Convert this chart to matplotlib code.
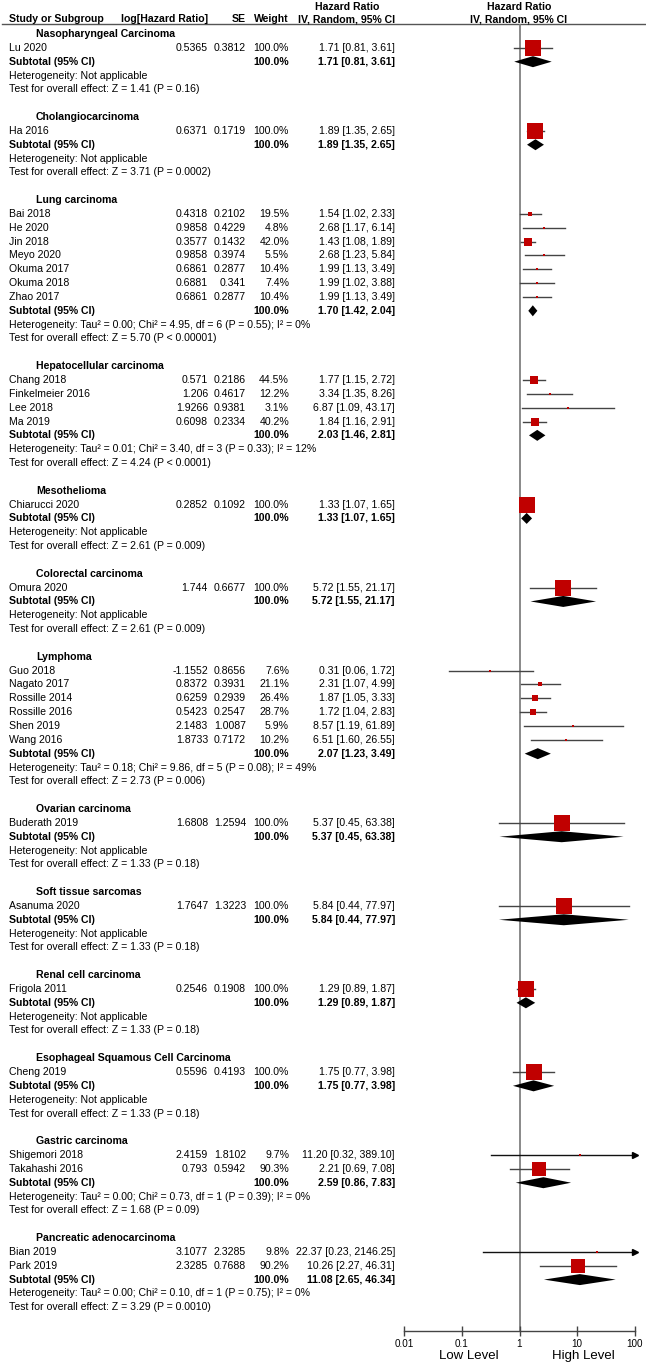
import matplotlib
matplotlib.use("Agg")
import matplotlib.pyplot as plt
from matplotlib.patches import Polygon
import numpy as np

plt.rcParams['font.family'] = ['Liberation Sans', 'DejaVu Sans']

# ---------------- data ----------------
group_names = [
    "Nasopharyngeal Carcinoma", "Cholangiocarcinoma", "Lung carcinoma",
    "Hepatocellular carcinoma", "Mesothelioma", "Colorectal carcinoma",
    "Lymphoma", "Ovarian carcinoma", "Soft tissue sarcomas",
    "Renal cell carcinoma", "Esophageal Squamous Cell Carcinoma",
    "Gastric carcinoma", "Pancreatic adenocarcinoma",
]

study_group = [0, 1, 2, 2, 2, 2, 2, 2, 2, 3, 3, 3, 3, 4, 5,
               6, 6, 6, 6, 6, 6, 7, 8, 9, 10, 11, 11, 12, 12]
study_names = [
    "Lu 2020", "Ha 2016",
    "Bai 2018", "He 2020", "Jin 2018", "Meyo 2020", "Okuma 2017", "Okuma 2018", "Zhao 2017",
    "Chang 2018", "Finkelmeier 2016", "Lee 2018", "Ma 2019",
    "Chiarucci 2020", "Omura 2020",
    "Guo 2018", "Nagato 2017", "Rossille 2014", "Rossille 2016", "Shen 2019", "Wang 2016",
    "Buderath 2019", "Asanuma 2020", "Frigola 2011", "Cheng 2019",
    "Shigemori 2018", "Takahashi 2016", "Bian 2019", "Park 2019",
]
log_hr = [0.5365, 0.6371,
          0.4318, 0.9858, 0.3577, 0.9858, 0.6861, 0.6881, 0.6861,
          0.571, 1.206, 1.9266, 0.6098,
          0.2852, 1.744,
          -1.1552, 0.8372, 0.6259, 0.5423, 2.1483, 1.8733,
          1.6808, 1.7647, 0.2546, 0.5596,
          2.4159, 0.793, 3.1077, 2.3285]
se = [0.3812, 0.1719,
      0.2102, 0.4229, 0.1432, 0.3974, 0.2877, 0.341, 0.2877,
      0.2186, 0.4617, 0.9381, 0.2334,
      0.1092, 0.6677,
      0.8656, 0.3931, 0.2939, 0.2547, 1.0087, 0.7172,
      1.2594, 1.3223, 0.1908, 0.4193,
      1.8102, 0.5942, 2.3285, 0.7688]
weight = [100.0, 100.0,
          19.5, 4.8, 42.0, 5.5, 10.4, 7.4, 10.4,
          44.5, 12.2, 3.1, 40.2,
          100.0, 100.0,
          7.6, 21.1, 26.4, 28.7, 5.9, 10.2,
          100.0, 100.0, 100.0, 100.0,
          9.7, 90.3, 9.8, 90.2]
hr = [1.71, 1.89,
      1.54, 2.68, 1.43, 2.68, 1.99, 1.99, 1.99,
      1.77, 3.34, 6.87, 1.84,
      1.33, 5.72,
      0.31, 2.31, 1.87, 1.72, 8.57, 6.51,
      5.37, 5.84, 1.29, 1.75,
      11.20, 2.21, 22.37, 10.26]
ci_lo = [0.81, 1.35,
         1.02, 1.17, 1.08, 1.23, 1.13, 1.02, 1.13,
         1.15, 1.35, 1.09, 1.16,
         1.07, 1.55,
         0.06, 1.07, 1.05, 1.04, 1.19, 1.60,
         0.45, 0.44, 0.89, 0.77,
         0.32, 0.69, 0.23, 2.27]
ci_hi = [3.61, 2.65,
         2.33, 6.14, 1.89, 5.84, 3.49, 3.88, 3.49,
         2.72, 8.26, 43.17, 2.91,
         1.65, 21.17,
         1.72, 4.99, 3.33, 2.83, 61.89, 26.55,
         63.38, 77.97, 1.87, 3.98,
         389.10, 7.08, 2146.25, 46.31]

sub_hr = [1.71, 1.89, 1.70, 2.03, 1.33, 5.72, 2.07, 5.37, 5.84, 1.29, 1.75, 2.59, 11.08]
sub_lo = [0.81, 1.35, 1.42, 1.46, 1.07, 1.55, 1.23, 0.45, 0.44, 0.89, 0.77, 0.86, 2.65]
sub_hi = [3.61, 2.65, 2.04, 2.81, 1.65, 21.17, 3.49, 63.38, 77.97, 1.87, 3.98, 7.83, 46.34]

het_text = [
    "Heterogeneity: Not applicable",
    "Heterogeneity: Not applicable",
    "Heterogeneity: Tau² = 0.00; Chi² = 4.95, df = 6 (P = 0.55); I² = 0%",
    "Heterogeneity: Tau² = 0.01; Chi² = 3.40, df = 3 (P = 0.33); I² = 12%",
    "Heterogeneity: Not applicable",
    "Heterogeneity: Not applicable",
    "Heterogeneity: Tau² = 0.18; Chi² = 9.86, df = 5 (P = 0.08); I² = 49%",
    "Heterogeneity: Not applicable",
    "Heterogeneity: Not applicable",
    "Heterogeneity: Not applicable",
    "Heterogeneity: Not applicable",
    "Heterogeneity: Tau² = 0.00; Chi² = 0.73, df = 1 (P = 0.39); I² = 0%",
    "Heterogeneity: Tau² = 0.00; Chi² = 0.10, df = 1 (P = 0.75); I² = 0%",
]
test_text = [
    "Test for overall effect: Z = 1.41 (P = 0.16)",
    "Test for overall effect: Z = 3.71 (P = 0.0002)",
    "Test for overall effect: Z = 5.70 (P < 0.00001)",
    "Test for overall effect: Z = 4.24 (P < 0.0001)",
    "Test for overall effect: Z = 2.61 (P = 0.009)",
    "Test for overall effect: Z = 2.61 (P = 0.009)",
    "Test for overall effect: Z = 2.73 (P = 0.006)",
    "Test for overall effect: Z = 1.33 (P = 0.18)",
    "Test for overall effect: Z = 1.33 (P = 0.18)",
    "Test for overall effect: Z = 1.33 (P = 0.18)",
    "Test for overall effect: Z = 1.33 (P = 0.18)",
    "Test for overall effect: Z = 1.68 (P = 0.09)",
    "Test for overall effect: Z = 3.29 (P = 0.0010)",
]

axis_ticks = [0.01, 0.1, 1, 10, 100]
axis_ticklabels = ["0.01", "0.1", "1", "10", "100"]
favours = ["Low Level", "High Level"]

# ---------------- layout ----------------
W, H = 646, 1367
fig = plt.figure(figsize=(W / 100, H / 100), dpi=100)
ax = fig.add_axes([0, 0, 1, 1])
ax.set_xlim(0, W)
ax.set_ylim(H, 0)
ax.axis('off')

x0f, x1f = 404, 635
axf = fig.add_axes([x0f / W, 0, (x1f - x0f) / W, 1])
axf.set_xscale('log')
axf.set_xlim(0.01, 100)
axf.set_ylim(H, 0)
axf.patch.set_alpha(0)
for s in ['top', 'left', 'right']:
    axf.spines[s].set_visible(False)

FS = 7.6
X_NAME, X_HEAD = 9, 36
X_LOG, X_SE, X_W, X_CI = 208, 246, 289, 395
X_CIH = 347
ROW = 13.84
Y0 = 34
AXIS_Y = 1331
RED = '#c00000'

# header
ax.text(X_CIH, 7, "Hazard Ratio", ha='center', va='center', fontsize=FS, fontweight='bold')
ax.text(519, 7, "Hazard Ratio", ha='center', va='center', fontsize=FS, fontweight='bold')
for x, t, ha in [(X_NAME, "Study or Subgroup", 'left'), (X_LOG, "log[Hazard Ratio]", 'right'),
                 (X_SE, "SE", 'right'), (X_W, "Weight", 'right'),
                 (X_CIH, "IV, Random, 95% CI", 'center'), (519, "IV, Random, 95% CI", 'center')]:
    ax.text(x, 19, t, ha=ha, va='center', fontsize=FS, fontweight='bold')
ax.plot([2, 646], [23.5, 23.5], color='#555555', lw=1.0)

# vertical line at 1
axf.vlines(1, 23.5, AXIS_Y, color='#808080', lw=1.3, zorder=1)

study_group = np.array(study_group)
y = Y0
for g, gname in enumerate(group_names):
    ax.text(X_HEAD, y, gname, ha='left', va='center', fontsize=FS, fontweight='bold')
    idx = np.where(study_group == g)[0]
    for k, i in enumerate(idx):
        yy = y + ROW * (k + 1)
        ax.text(X_NAME, yy, study_names[i], ha='left', va='center', fontsize=FS)
        ax.text(X_LOG, yy, str(log_hr[i]), ha='right', va='center', fontsize=FS)
        ax.text(X_SE, yy, str(se[i]), ha='right', va='center', fontsize=FS)
        ax.text(X_W, yy, f"{weight[i]:.1f}%", ha='right', va='center', fontsize=FS)
        ax.text(X_CI, yy, f"{hr[i]:.2f} [{ci_lo[i]:.2f}, {ci_hi[i]:.2f}]",
                ha='right', va='center', fontsize=FS)
        hi = min(ci_hi[i], 100)
        if ci_hi[i] > 100:
            axf.plot([ci_lo[i], hi], [yy, yy], color='#111111', lw=1.0, clip_on=False, zorder=2)
            axf.plot([hi], [yy], marker='>', color='black', ms=4, clip_on=False, zorder=3)
        else:
            axf.plot([ci_lo[i], hi], [yy, yy], color='#444444', lw=1.0, clip_on=False, zorder=2)
        side = max(2.2, 16 * (weight[i] / 100.0) ** 0.85)
        axf.scatter([hr[i]], [yy], marker='s', s=(side * 0.72) ** 2, color=RED,
                    linewidths=0, zorder=4, clip_on=False)
    n = len(idx)
    ys = y + ROW * (n + 1)
    ax.text(X_NAME, ys, "Subtotal (95% CI)", ha='left', va='center', fontsize=FS, fontweight='bold')
    ax.text(X_W, ys, "100.0%", ha='right', va='center', fontsize=FS, fontweight='bold')
    ax.text(X_CI, ys, f"{sub_hr[g]:.2f} [{sub_lo[g]:.2f}, {sub_hi[g]:.2f}]",
            ha='right', va='center', fontsize=FS, fontweight='bold')
    dh = 5.5
    axf.add_patch(Polygon([(sub_lo[g], ys), (sub_hr[g], ys - dh), (sub_hi[g], ys),
                           (sub_hr[g], ys + dh)], closed=True, color='black', lw=0, zorder=5))
    ax.text(X_NAME, ys + ROW, het_text[g], ha='left', va='center', fontsize=FS)
    ax.text(X_NAME, ys + 2 * ROW, test_text[g], ha='left', va='center', fontsize=FS)
    y += ROW * (n + 5)

# bottom axis
axf.spines['bottom'].set_position(('data', AXIS_Y))
axf.spines['bottom'].set_color('#444444')
axf.spines['bottom'].set_linewidth(1.0)
axf.set_xticks(axis_ticks)
axf.set_xticklabels(axis_ticklabels)
axf.xaxis.set_minor_locator(matplotlib.ticker.NullLocator())
axf.tick_params(axis='x', direction='inout', length=7, width=1.0, color='#444444',
                labelsize=7.1, pad=2)
axf.set_yticks([])
axf.text(0.13, 1356, favours[0], ha='center', va='center', fontsize=9.5)
axf.text(12.8, 1356, favours[1], ha='center', va='center', fontsize=9.5)

fig.savefig("out.png", dpi=100)
